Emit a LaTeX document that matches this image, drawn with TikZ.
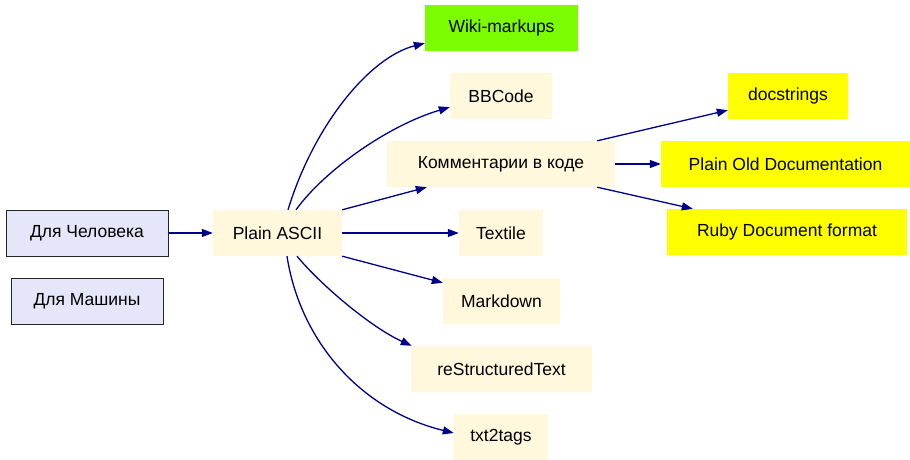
\documentclass[tikz,border=0pt]{standalone}
\usepackage{fontspec}
\setmainfont{Liberation Sans}
\usetikzlibrary{arrows.meta}
\definecolor{lav}{HTML}{E6E6FA}
\definecolor{corn}{HTML}{FFF8DC}
\definecolor{lawn}{HTML}{7CFC00}
\definecolor{yel}{HTML}{FFFF00}
\definecolor{edgecol}{HTML}{00008B}
\tikzset{
  box/.style={rectangle, minimum height=46pt, inner sep=0pt, font=\fontsize{17.5pt}{20pt}\selectfont},
  humanbox/.style={box, fill=lav, draw=black!85, line width=1pt},
  plainbox/.style={box, fill=corn},
  wikibox/.style={box, fill=lawn},
  yelbox/.style={box, fill=yel},
  conn/.style={draw=edgecol, line width=1.3pt, -{Triangle[length=11pt,width=8pt]}},
}
\begin{document}
\begin{tikzpicture}[x=1pt,y=1pt]
\useasboundingbox (0,0) rectangle (910,-460);
\node[humanbox, minimum width=162pt] (human) at (87,-233) {Для Человека};
\node[humanbox, minimum width=152pt] (machine) at (87,-301) {Для Машины};
\node[plainbox, minimum width=129pt] (ascii) at (277.5,-233) {Plain ASCII};
\node[wikibox, minimum width=153pt] (wiki) at (501.5,-28) {Wiki-markups};
\node[plainbox, minimum width=102pt] (bb) at (501,-96) {BBCode};
\node[plainbox, minimum width=228pt] (komm) at (501,-164) {Комментарии в коде};
\node[plainbox, minimum width=84pt] (textile) at (501,-233) {Textile};
\node[plainbox, minimum width=117pt] (md) at (501.5,-301) {Markdown};
\node[plainbox, minimum width=181pt] (rest) at (501.5,-369) {reStructuredText};
\node[plainbox, minimum width=94pt] (t2t) at (501,-437) {txt2tags};
\node[yelbox, minimum width=120pt] (doc) at (788,-96) {docstrings};
\node[yelbox, minimum width=249pt] (pod) at (785.5,-164) {Plain Old Documentation};
\node[yelbox, minimum width=240pt] (ruby) at (787,-232) {Ruby Document format};

\draw[conn] (human.east) -- (ascii.west);
\draw[conn] ([xshift=10.5pt]ascii.north) .. controls +(26,85) and +(-55,-14) .. ([yshift=8pt]wiki.south west);
\draw[conn] ([xshift=18.5pt]ascii.north) .. controls +(29,40) and +(-61,-18) .. ([yshift=12pt]bb.south west);
\draw[conn] (ascii.north east) -- ([xshift=40pt]komm.south west);
\draw[conn] (ascii.east) -- (textile.west);
\draw[conn] (ascii.south east) -- ([yshift=-5pt]md.north west);
\draw[conn] ([xshift=19.5pt]ascii.south) .. controls +(25,-30) and +(-40,18) .. ([xshift=1pt]rest.north west);
\draw[conn] ([xshift=9.5pt]ascii.south) .. controls +(13,-84) and +(-94,23) .. ([yshift=4pt]t2t.west);
\draw[conn] ([xshift=-18pt]komm.north east) -- ([yshift=9pt]doc.south west);
\draw[conn] (komm.east) -- (pod.west);
\draw[conn] ([xshift=-18pt]komm.south east) -- ([xshift=26pt]ruby.north west);
\end{tikzpicture}
\end{document}
